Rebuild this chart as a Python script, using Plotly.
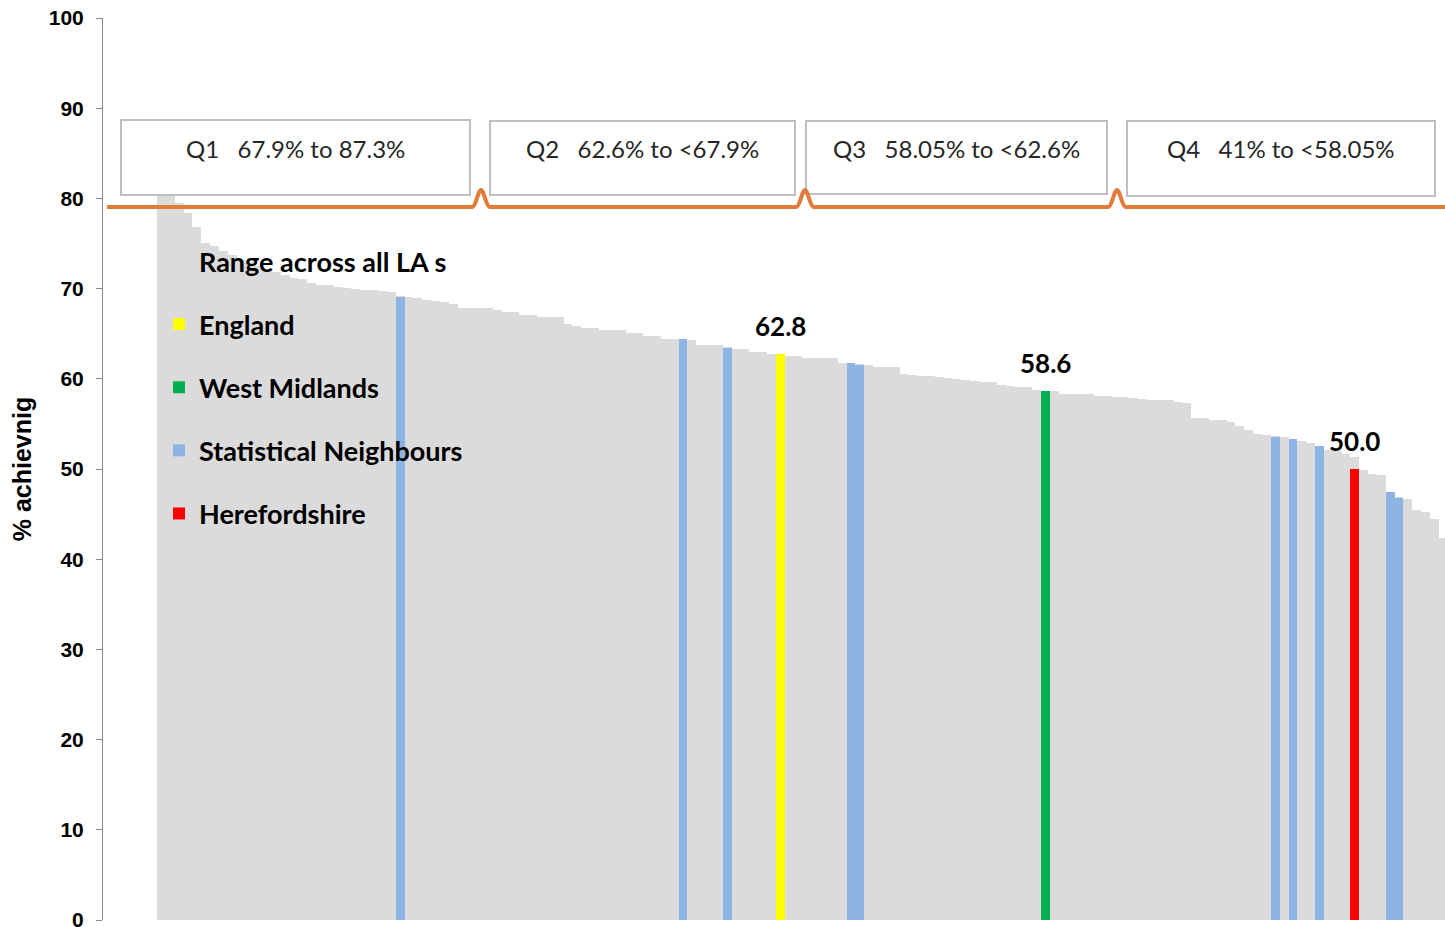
import plotly.graph_objects as go

# ---------------- data ----------------
# all LAs sorted (rank position -> % achieving)
la_rank = list(range(146))
la_values = [
    87.3, 81.0, 79.5, 78.4, 76.8, 75.1, 74.7, 74.2, 73.7, 73.2,
    72.9, 72.5, 72.1, 71.8, 71.5, 71.2, 71.1, 70.6, 70.4, 70.4,
    70.2, 70.1, 70.0, 69.8, 69.8, 69.7, 69.6, 69.2, 69.1, 69.0,
    68.7, 68.6, 68.5, 68.3, 67.9, 67.8, 67.8, 67.8, 67.6, 67.4,
    67.4, 67.1, 67.1, 66.8, 66.8, 66.8, 66.1, 65.9, 65.6, 65.6,
    65.4, 65.4, 65.4, 65.1, 65.1, 64.7, 64.7, 64.4, 64.4, 64.4,
    64.3, 63.8, 63.8, 63.8, 63.5, 63.3, 63.3, 63.0, 63.0, 62.8,
    62.7, 62.5, 62.5, 62.3, 62.3, 62.3, 62.3, 61.7, 61.7, 61.6,
    61.5, 61.3, 61.3, 61.3, 60.5, 60.4, 60.3, 60.3, 60.2, 60.1,
    60.0, 59.9, 59.8, 59.7, 59.7, 59.3, 59.2, 59.1, 59.1, 58.8,
    58.6, 58.6, 58.3, 58.3, 58.3, 58.3, 58.1, 58.1, 58.0, 58.0,
    57.9, 57.8, 57.7, 57.7, 57.6, 57.4, 57.3, 55.7, 55.7, 55.4,
    55.4, 55.2, 54.8, 54.3, 53.9, 53.8, 53.7, 53.5, 53.3, 53.1,
    52.9, 52.6, 52.1, 52.0, 51.7, 51.3, 49.9, 49.4, 49.3, 47.5,
    46.9, 46.7, 45.4, 45.2, 44.5, 42.3,
]

england_rank = [70]
england_values = [62.8]

wm_rank = [100]
wm_values = [58.6]

sn_rank = [27, 59, 64, 78, 79, 126, 128, 131, 139, 140]
sn_values = [69.1, 64.4, 63.4, 61.7, 61.5, 53.6, 53.3, 52.5, 47.4, 46.8]

hfd_rank = [135]
hfd_values = [50.0]

quartile_labels = [
    "Q1\u00a0\u00a0\u00a067.9% to 87.3%",
    "Q2\u00a0\u00a0\u00a062.6% to <67.9%",
    "Q3\u00a0\u00a0\u00a058.05% to <62.6%",
    "Q4\u00a0\u00a0\u00a041% to <58.05%",
]

y_ticks = list(range(0, 101, 10))

# ---------------- styling / layout helpers ----------------
GREY = "#DBDBDB"
BLUE = "#8DB4E2"
YELLOW = "#FFFF00"
GREEN = "#00B050"
RED = "#FF0000"
ORANGE = "#E07B39"

W, H = 1445, 927
ML, MT, MB = 103, 18, 7
X0PX, BWPX = 157.0, 8.84        # pixel of first bar's left edge, bar width in px
PLOT_BOTTOM = H - MB


def xd(px):
    return (px - X0PX) / BWPX - 0.5


def yd(py):
    return (PLOT_BOTTOM - py) / ((PLOT_BOTTOM - MT) / 100.0)


fig = go.Figure()

def add_bar(name, x, y, color):
    fig.add_trace(go.Bar(
        x=x, y=y, name=name, width=1,
        marker=dict(color=color, line=dict(width=0)),
        legendgroup=name, hoverinfo="x+y",
    ))

add_bar("Range across all LA s", la_rank, la_values, GREY)
add_bar("England", england_rank, england_values, YELLOW)
add_bar("West Midlands", wm_rank, wm_values, GREEN)
add_bar("Statistical Neighbours", sn_rank, sn_values, BLUE)
add_bar("Herefordshire", hfd_rank, hfd_values, RED)

# data labels for England, West Midlands, Herefordshire
annotations = []
for xs, ys in ((england_rank, england_values), (wm_rank, wm_values), (hfd_rank, hfd_values)):
    for xv, yv in zip(xs, ys):
        annotations.append(dict(
            x=xv, y=yv, xref="x", yref="y", text=f"<b>{yv:.1f}</b>",
            showarrow=False, yanchor="bottom", yshift=10,
            font=dict(family="Lato", size=26, color="black"),
        ))

# quartile boxes
box_px = [(121, 470, 120, 195), (490, 795, 121, 195), (806, 1107, 121, 194), (1127, 1435, 121, 196)]
shapes = []
for lab, (x0, x1, y0, y1) in zip(quartile_labels, box_px):
    shapes.append(dict(
        type="rect", xref="x", yref="y",
        x0=xd(x0), x1=xd(x1), y0=yd(y1), y1=yd(y0),
        fillcolor="white", line=dict(color="#BFBFBF", width=2), layer="above",
    ))
    annotations.append(dict(
        x=(xd(x0) + xd(x1)) / 2, y=yd(148), xref="x", yref="y",
        text=lab, showarrow=False, xanchor="center", yanchor="middle",
        font=dict(family="Lato", size=24, color="#262626"),
    ))

# orange break line with bumps
yl = yd(207)
yp = yd(190)
path = f"M {xd(107)},{yl}"
for b in (481, 805, 1117):
    path += (f" L {xd(b-9)},{yl}"
             f" C {xd(b-5)},{yl} {xd(b-3)},{yp} {xd(b)},{yp}"
             f" C {xd(b+3)},{yp} {xd(b+5)},{yl} {xd(b+9)},{yl}")
path += f" L {xd(1460)},{yl}"
shapes.append(dict(type="path", path=path, xref="x", yref="y",
                   line=dict(color=ORANGE, width=4), layer="above"))

fig.update_layout(
    width=W, height=H,
    margin=dict(l=ML, r=0, t=MT, b=MB, autoexpand=False),
    paper_bgcolor="white", plot_bgcolor="white",
    barmode="overlay", bargap=0,
    showlegend=True,
    legend=dict(
        x=(159 - ML) / (W - ML), y=yd(237) / 100.0,
        xanchor="left", yanchor="top",
        bgcolor="rgba(0,0,0,0)", borderwidth=0,
        font=dict(family="Lato", size=27, color="black", weight="bold"),
        traceorder="grouped", tracegroupgap=25,
    ),
    xaxis=dict(
        range=[xd(ML), xd(W)], showticklabels=False, showgrid=False,
        zeroline=False, showline=False, ticks="",
    ),
    yaxis=dict(
        range=[0, 100], tickvals=y_ticks, showgrid=False, zeroline=False,
        showline=True, linecolor="#868686", linewidth=1,
        ticks="outside", ticklen=6, tickcolor="#868686",
        tickfont=dict(family="Liberation Sans", size=21, color="black", weight="bold"),
        ticklabelstandoff=8, ticklabeloverflow="allow", automargin=False,
        title=dict(text="% achievnig", standoff=10,
                   font=dict(family="Liberation Sans", size=25, color="black", weight="bold")),
    ),
    shapes=shapes,
    annotations=annotations,
)

fig.write_html("out.html", config={"displayModeBar": False},
               post_script="document.body.style.margin='0px';")
